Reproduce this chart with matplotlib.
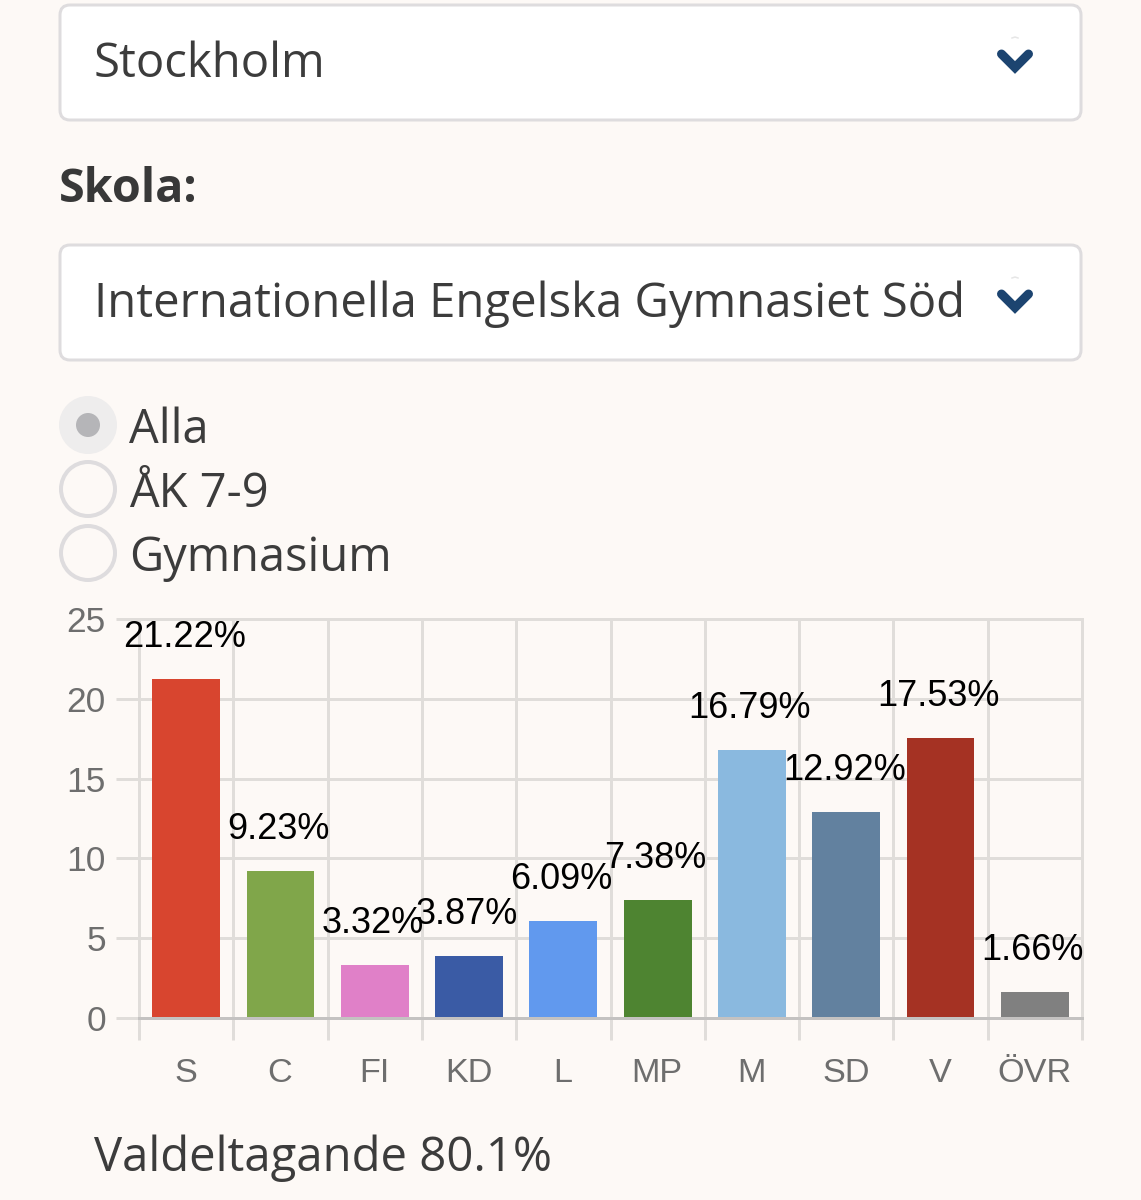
from matplotlib import pyplot as plt
from matplotlib.patches import Circle, FancyBboxPatch
from matplotlib.transforms import ScaledTranslation

parties = ["S", "C", "FI", "KD", "L", "MP", "M", "SD", "V", "ÖVR"]
shares = [21.22, 9.23, 3.32, 3.87, 6.09, 7.38, 16.79, 12.92, 17.53, 1.66]
colors = ["#D8452F", "#80A64A", "#E080C8", "#3A5BA5", "#6199EE",
          "#4E8431", "#8AB9DF", "#62819F", "#A53223", "#808080"]
y_ticks = [0, 5, 10, 15, 20, 25]

W, H = 1141, 1200
BG = "#FDF9F6"
UI_FONT = "Open Sans"
CHART_FONT = "Liberation Sans"
PX = 72 / 100  # one pixel in points at dpi 100

fig = plt.figure(figsize=(W / 100, H / 100), dpi=100, facecolor=BG)

# page widgets, in pixel coordinates
ui = fig.add_axes([0, 0, 1, 1], zorder=0)
ui.set_xlim(0, W)
ui.set_ylim(H, 0)
ui.axis("off")


def select_box(top, bottom, label):
    box = FancyBboxPatch((70, top + 10), 1001, bottom - top - 20,
                         boxstyle="round,pad=10,rounding_size=10",
                         facecolor="white", edgecolor="#DEDCDE", linewidth=3 * PX)
    ui.add_patch(box)
    ui.text(94, top + 72, label, fontsize=34, family=UI_FONT, color="#3C3C3C", va="baseline")
    ui.plot([1001.5, 1015, 1028.5], [top + 49, top + 62.5, top + 49], color="#1C4470",
            linewidth=9 * PX, solid_capstyle="round", solid_joinstyle="miter")
    ui.plot([1012, 1015, 1018], [top + 33, top + 32, top + 33], color="#E6E6E6", linewidth=1.5 * PX)


select_box(5, 120, "Stockholm")
select_box(245, 360, "Internationella Engelska Gymnasiet Söd")
ui.text(59, 202, "Skola:", fontsize=33.7, family=UI_FONT, weight="bold", color="#383838", va="baseline")

for cy, base, label, selected in [(425, 443, "Alla", True), (489, 507, "ÅK 7-9", False),
                                  (553, 571, "Gymnasium", False)]:
    ui.add_patch(Circle((88, cy), 27, facecolor="#EEEDED" if selected else BG,
                        edgecolor="#EEEDED" if selected else "#DEDCDE", linewidth=4 * PX))
    if selected:
        ui.add_patch(Circle((88, cy), 12, facecolor="#B5B5B8", edgecolor="none"))
    ui.text(129, base, label, fontsize=33.8, family=UI_FONT, color="#3C3C3C", va="baseline")

ui.text(94, 1171, "Valdeltagande 80.1%", fontsize=34, family=UI_FONT, color="#3C3C3C", va="baseline")

# bar chart
left, right, top, bottom = 139, 1082, 619, 1018
ax = fig.add_axes([left / W, 1 - bottom / H, (right - left) / W, (bottom - top) / H], zorder=1)
ax.patch.set_alpha(0)
positions = list(range(len(parties)))
ax.bar(positions, shares, width=0.72, color=colors, zorder=3)
ax.set_xlim(-0.5, len(parties) - 0.5)
ax.set_ylim(0, 25)

for spine in ax.spines.values():
    spine.set_visible(False)
ax.spines["bottom"].set_visible(True)
ax.spines["bottom"].set_color("#C4C2C1")
ax.spines["bottom"].set_linewidth(3 * PX)
ax.spines["bottom"].set_zorder(4)

grid_color = "#E0DDDA"
ax.set_yticks(y_ticks)
ax.set_xticks([p - 0.5 for p in positions] + [len(parties) - 0.5])
ax.set_xticklabels([])
ax.set_xticks(positions, minor=True)
ax.set_xticklabels(parties, minor=True, family=CHART_FONT, fontsize=24.7, color="#6E6E6E")
ax.grid(True, which="major", color=grid_color, linewidth=3 * PX, zorder=1, clip_on=False)
ax.tick_params(axis="x", which="major", length=22 * PX, width=3 * PX, color=grid_color)
ax.tick_params(axis="x", which="minor", length=0, pad=40 * PX)
ax.tick_params(axis="y", length=23 * PX, width=3 * PX, color=grid_color, pad=10 * PX,
               labelsize=25.5, labelcolor="#6E6E6E")
for label in ax.get_yticklabels():
    label.set_family(CHART_FONT)

# category labels sit a little left of the bar centres
nudge = ScaledTranslation(-0.5 * PX / 72, 0, fig.dpi_scale_trans)
for label in ax.get_xticklabels(minor=True):
    label.set_transform(label.get_transform() + nudge)

for pos, share in zip(positions, shares):
    ax.annotate(f"{share:.2f}%", (pos, share), xytext=(-2 * PX, 32 * PX),
                textcoords="offset points", ha="center", va="baseline",
                family=CHART_FONT, fontsize=26, color="black", zorder=5)

fig.savefig("out.png", dpi=100, facecolor=BG)
